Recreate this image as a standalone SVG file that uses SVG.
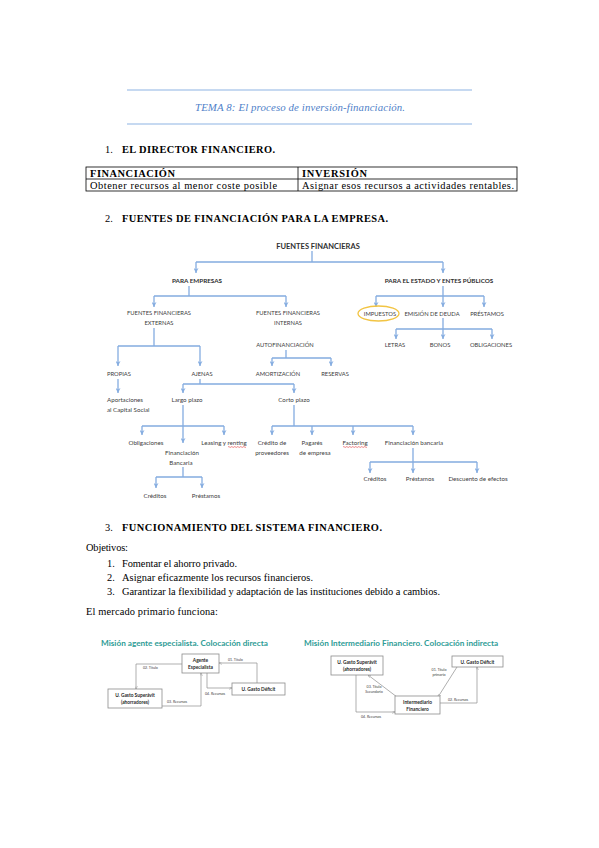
<svg xmlns="http://www.w3.org/2000/svg" width="599" height="848" viewBox="0 0 599 848">
<style>
.doc{font-family:"Liberation Serif","Times New Roman",serif;font-size:10.4px;fill:#000}
.b{font-weight:bold}
.ttl{font-family:"Liberation Serif",serif;font-style:italic;font-size:10.8px;fill:#4f7fc9}
.hl{stroke:#8eb4e3;stroke-width:1.2;fill:none}
.tb{stroke:#000;stroke-width:0.8;fill:none}
.t{font-family:Lato,"Open Sans",sans-serif;fill:#404040;text-anchor:middle}
.cap{font-size:5.8px}
.mix{font-size:6.2px}
.h1{font-size:7.5px;font-weight:bold;fill:#303030}
.h2{font-size:6.3px;font-weight:bold;fill:#303030}
.c{stroke:#84ace0;stroke-width:1.3;fill:none}
.ca{stroke:#84ace0;stroke-width:1.3;fill:none;marker-end:url(#ah)}
.sp{stroke:#e03030;stroke-width:0.6;fill:none}
.mt{font-family:Lato,"Open Sans",sans-serif;font-size:8.2px;font-weight:bold;fill:#2e9c96}
.bx{fill:#fff;stroke:#8c8c8c;stroke-width:0.8}
.bt{font-family:Lato,"Open Sans",sans-serif;font-size:4.8px;font-weight:bold;fill:#262626;text-anchor:middle}
.lb{font-family:Lato,"Open Sans",sans-serif;font-size:3.6px;fill:#404040}
.g{stroke:#8c8c8c;stroke-width:0.7;fill:none;marker-end:url(#gh)}
</style>
<defs>
<marker id="ah" viewBox="0 0 10 10" refX="10" refY="5" markerWidth="5" markerHeight="5" markerUnits="userSpaceOnUse" orient="auto">
<path d="M0,0 L10,5 L0,10 L3,5 z" fill="#84ace0"/>
</marker>
<marker id="gh" viewBox="0 0 10 10" refX="10" refY="5" markerWidth="3" markerHeight="3" markerUnits="userSpaceOnUse" orient="auto">
<path d="M0,0 L10,5 L0,10" fill="none" stroke="#8c8c8c" stroke-width="1.5"/>
</marker>
</defs>
<rect width="599" height="848" fill="#fff"/>

<g id="header">
<line class="hl" x1="127" y1="90" x2="472" y2="90"/>
<text class="ttl" x="195" y="111" textLength="210" lengthAdjust="spacing">TEMA 8: El proceso de inversión-financiación.</text>
<line class="hl" x1="127" y1="124" x2="472" y2="124"/>
</g>

<g id="section1">
<text class="doc" x="105" y="153">1.</text>
<text class="doc b" x="122" y="153" textLength="153" lengthAdjust="spacing">EL DIRECTOR FINANCIERO.</text>
</g>

<g id="table">
<rect class="tb" x="86" y="167" width="431" height="24"/>
<line class="tb" x1="86" y1="179" x2="517" y2="179"/>
<line class="tb" x1="298" y1="167" x2="298" y2="191"/>
<text class="doc b" x="90" y="177" textLength="85" lengthAdjust="spacing">FINANCIACIÓN</text>
<text class="doc b" x="302" y="177" textLength="65" lengthAdjust="spacing">INVERSIÓN</text>
<text class="doc" x="90" y="188.5" textLength="187" lengthAdjust="spacing">Obtener recursos al menor coste posible</text>
<text class="doc" x="302" y="188.5" textLength="212" lengthAdjust="spacing">Asignar esos recursos a actividades rentables.</text>
</g>

<g id="section2">
<text class="doc" x="105" y="222">2.</text>
<text class="doc b" x="122" y="222" textLength="266" lengthAdjust="spacing">FUENTES DE FINANCIACIÓN PARA LA EMPRESA.</text>
</g>

<g id="tree-connectors">
<path class="c" d="M312,251 V262 M196,262 H443"/>
<path class="ca" d="M196,262 V273"/>
<path class="ca" d="M443,262 V273"/>
<path class="c" d="M189,286 V296 M154,296 H286"/>
<path class="ca" d="M154,296 V307"/>
<path class="ca" d="M286,296 V307"/>
<path class="c" d="M443,286 V296 M376,296 H484"/>
<path class="ca" d="M376,296 V307"/>
<path class="ca" d="M443,296 V307"/>
<path class="ca" d="M484,296 V307"/>
<path class="c" d="M443,318 V329 M396,329 H492"/>
<path class="ca" d="M396,329 V339"/>
<path class="ca" d="M443,329 V339"/>
<path class="ca" d="M492,329 V339"/>
<path class="c" d="M154,328 V346 M118,346 H200"/>
<path class="ca" d="M118,346 V366"/>
<path class="ca" d="M200,346 V366"/>
<path class="c" d="M286,350 V358 M272,358 H331"/>
<path class="ca" d="M272,358 V366"/>
<path class="ca" d="M331,358 V366"/>
<path class="ca" d="M118,379 V393"/>
<path class="c" d="M200,379 V384 M183,384 H294"/>
<path class="ca" d="M183,384 V393"/>
<path class="ca" d="M294,384 V393"/>
<path class="c" d="M183,405 V426 M142,426 H224"/>
<path class="ca" d="M142,426 V435"/>
<path class="ca" d="M183,426 V443"/>
<path class="ca" d="M224,426 V435"/>
<path class="c" d="M294,405 V426 M272,426 H413"/>
<path class="ca" d="M272,426 V435"/>
<path class="ca" d="M312,426 V435"/>
<path class="ca" d="M353,426 V435"/>
<path class="ca" d="M413,426 V435"/>
<path class="c" d="M413,448 V462 M370,462 H477"/>
<path class="ca" d="M370,462 V473"/>
<path class="ca" d="M413,462 V473"/>
<path class="ca" d="M477,462 V473"/>
<path class="c" d="M183,467 V477 M156,477 H202"/>
<path class="ca" d="M156,477 V488"/>
<path class="ca" d="M202,477 V488"/>
</g>

<g id="n-fuentes"><text class="t h1" x="318" y="249">FUENTES FINANCIERAS</text></g>
<g id="n-empresas"><text class="t h2" x="197" y="283">PARA EMPRESAS</text></g>
<g id="n-estado"><text class="t h2" x="439" y="283">PARA EL ESTADO Y ENTES PÚBLICOS</text></g>
<g id="n-externas"><text class="t cap" x="159" y="315">FUENTES FINANCIERAS</text><text class="t cap" x="159" y="325">EXTERNAS</text></g>
<g id="n-internas"><text class="t cap" x="288" y="315">FUENTES FINANCIERAS</text><text class="t cap" x="288" y="325">INTERNAS</text></g>
<g id="n-impuestos"><ellipse cx="378.5" cy="313.5" rx="20.5" ry="7.5" fill="none" stroke="#f2c443" stroke-width="1.3"/><text class="t cap" x="380" y="315.5">IMPUESTOS</text></g>
<g id="n-emision"><text class="t cap" x="432" y="315.5">EMISIÓN DE DEUDA</text></g>
<g id="n-prestamos-e"><text class="t cap" x="487" y="315.5">PRÉSTAMOS</text></g>
<g id="n-letras"><text class="t cap" x="395" y="347">LETRAS</text></g>
<g id="n-bonos"><text class="t cap" x="440" y="347">BONOS</text></g>
<g id="n-obligaciones-e"><text class="t cap" x="491" y="347">OBLIGACIONES</text></g>
<g id="n-autofin"><text class="t cap" x="285" y="347">AUTOFINANCIACIÓN</text></g>
<g id="n-amortizacion"><text class="t cap" x="278" y="376">AMORTIZACIÓN</text></g>
<g id="n-reservas"><text class="t cap" x="335" y="376">RESERVAS</text></g>
<g id="n-propias"><text class="t cap" x="119" y="376">PROPIAS</text></g>
<g id="n-ajenas"><text class="t cap" x="202" y="376">AJENAS</text></g>
<g id="n-aportaciones"><text class="t mix" x="107" y="402" style="text-anchor:start">Aportaciones</text><text class="t mix" x="107" y="412" style="text-anchor:start">al Capital Social</text></g>
<g id="n-largo"><text class="t mix" x="187" y="402">Largo plazo</text></g>
<g id="n-corto"><text class="t mix" x="294" y="402">Corto plazo</text></g>
<g id="n-obligaciones"><text class="t mix" x="146" y="445">Obligaciones</text></g>
<g id="n-finbancaria-l"><text class="t mix" x="182" y="455">Financiación</text><text class="t mix" x="181" y="465">Bancaria</text></g>
<g id="n-leasing"><text class="t mix" x="224" y="445">Leasing y renting</text><path class="sp" d="M228,447 q0.75,-0.8 1.5,0 t1.5,0 t1.5,0 t1.5,0 t1.5,0 t1.5,0 t1.5,0 t1.5,0 t1.5,0 t1.5,0 t1.5,0 t1.5,0"/></g>
<g id="n-creditos-l"><text class="t mix" x="155" y="498">Créditos</text></g>
<g id="n-prestamos-l"><text class="t mix" x="206" y="498">Préstamos</text></g>
<g id="n-proveedores"><text class="t mix" x="272" y="445">Crédito de</text><text class="t mix" x="272" y="455">proveedores</text></g>
<g id="n-pagares"><text class="t mix" x="312" y="445">Pagarés</text><text class="t mix" x="315" y="455">de empresa</text></g>
<g id="n-factoring"><text class="t mix" x="355" y="445">Factoring</text><path class="sp" d="M343,447 q0.75,-0.8 1.5,0 t1.5,0 t1.5,0 t1.5,0 t1.5,0 t1.5,0 t1.5,0 t1.5,0 t1.5,0 t1.5,0 t1.5,0 t1.5,0 t1.5,0 t1.5,0 t1.5,0 t1.5,0"/></g>
<g id="n-finbancaria-c"><text class="t mix" x="414" y="445">Financiación bancaria</text></g>
<g id="n-creditos-c"><text class="t mix" x="375" y="481">Créditos</text></g>
<g id="n-prestamos-c"><text class="t mix" x="420" y="481">Préstamos</text></g>
<g id="n-descuento"><text class="t mix" x="478" y="481">Descuento de efectos</text></g>

<g id="section3">
<text class="doc" x="105" y="531">3.</text>
<text class="doc b" x="122" y="531" textLength="260" lengthAdjust="spacing">FUNCIONAMIENTO DEL SISTEMA FINANCIERO.</text>
<text class="doc" x="86" y="551" textLength="42" lengthAdjust="spacing">Objetivos:</text>
<text class="doc" x="107" y="567">1.</text>
<text class="doc" x="122" y="567" textLength="115" lengthAdjust="spacing">Fomentar el ahorro privado.</text>
<text class="doc" x="107" y="581">2.</text>
<text class="doc" x="122" y="581" textLength="191" lengthAdjust="spacing">Asignar eficazmente los recursos financieros.</text>
<text class="doc" x="107" y="595">3.</text>
<text class="doc" x="122" y="595" textLength="318" lengthAdjust="spacing">Garantizar la flexibilidad y adaptación de las instituciones debido a cambios.</text>
<text class="doc" x="86" y="615" textLength="132" lengthAdjust="spacing">El mercado primario funciona:</text>
</g>

<g id="direct-title"><text class="mt" x="101" y="646">Misión agente especialista. Colocación directa</text></g>
<g id="direct-connectors">
<path class="g" d="M182,664 H136 V689"/>
<path class="g" d="M257,683 V663 H219"/>
<path class="g" d="M207,673 V688 H232"/>
<path class="g" d="M162,706 H201 V673"/>
<text class="lb" x="143" y="669">02. Título</text>
<text class="lb" x="228" y="661">01. Título</text>
<text class="lb" x="205" y="694.5">04. Recursos</text>
<text class="lb" x="167" y="703">03. Recursos</text>
</g>
<g id="d-agente"><rect class="bx" x="182" y="654" width="37" height="19"/><text class="bt" x="200.5" y="662">Agente</text><text class="bt" x="200.5" y="669">Especialista</text></g>
<g id="d-superavit"><rect class="bx" x="108" y="689" width="54" height="19"/><text class="bt" x="135" y="697">U. Gasto Superávit</text><text class="bt" x="135" y="704">(ahorradores)</text></g>
<g id="d-deficit"><rect class="bx" x="232" y="683" width="53" height="12"/><text class="bt" x="258.5" y="690.5">U. Gasto Déficit</text></g>

<g id="indirect-title"><text class="mt" x="304" y="646">Misión Intermediario Financiero. Colocación indirecta</text></g>
<g id="indirect-connectors">
<path class="g" d="M356,675 V712 H395"/>
<path class="g" d="M397,697 L368,675"/>
<path class="g" d="M457,667 L438,697"/>
<path class="g" d="M440,703 H477 V667"/>
<text class="lb" x="374" y="687.5" text-anchor="middle">03. Título</text>
<text class="lb" x="374" y="692.5" text-anchor="middle">Secundario</text>
<text class="lb" x="439" y="671" text-anchor="middle">01. Título</text>
<text class="lb" x="439" y="676" text-anchor="middle">primario</text>
<text class="lb" x="448" y="700.5">02. Recursos</text>
<text class="lb" x="361" y="717.5">04. Recursos</text>
</g>
<g id="i-superavit"><rect class="bx" x="331" y="656" width="52" height="19"/><text class="bt" x="357" y="664">U. Gasto Superávit</text><text class="bt" x="357" y="671">(ahorradores)</text></g>
<g id="i-deficit"><rect class="bx" x="452" y="656" width="51" height="11"/><text class="bt" x="477.5" y="663.5">U. Gasto Déficit</text></g>
<g id="i-intermediario"><rect class="bx" x="395" y="696" width="45" height="18"/><text class="bt" x="417.5" y="704">Intermediario</text><text class="bt" x="417.5" y="711">Financiero</text></g>
</svg>
